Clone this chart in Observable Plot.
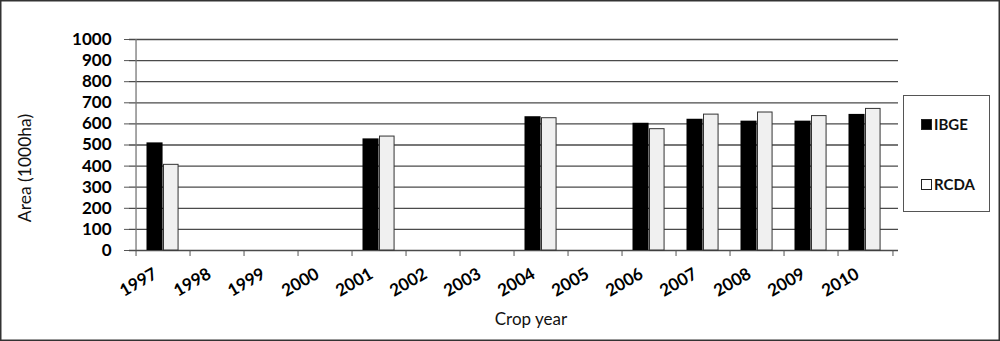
<!DOCTYPE html>
<html>
<head>
<meta charset="utf-8">
<script src="https://cdn.jsdelivr.net/npm/d3@7"></script>
<script src="https://cdn.jsdelivr.net/npm/@observablehq/plot@0.6"></script>
<style>
  html, body { margin: 0; padding: 0; background: #fff; }
  #chart { width: 1000px; height: 341px; position: relative; }
</style>
</head>
<body>
<div id="chart"></div>
<script>
const years = ["1997","1998","1999","2000","2001","2002","2003","2004","2005","2006","2007","2008","2009","2010"];
const ibge  = [510, null, null, null, 529, null, null, 634, null, 603, 622, 613, 613, 645];
const rcda  = [406, null, null, null, 540, null, null, 627, null, 575, 644, 654, 637, 671];
const seriesNames = ["IBGE", "RCDA"];
const yTicks = [0,100,200,300,400,500,600,700,800,900,1000];
const yLabel = "Area (1000ha)";
const xLabel = "Crop year";

const rows = years.map((y, i) => ({year: y, ibge: ibge[i], rcda: rcda[i]}));

const W = 1000, H = 341, mL = 129, mR = 102, mT = 39, mB = 91;
const bw = (W - mL - mR) / years.length;

const plot = Plot.plot({
  width: W, height: H,
  marginLeft: mL, marginRight: mR, marginTop: mT, marginBottom: mB,
  style: {fontFamily: "Lato, 'Open Sans', sans-serif", fontSize: "16px", background: "white"},
  x: {type: "band", domain: years, padding: 0},
  y: {domain: [0, 1000]},
  marks: [
    Plot.ruleY(yTicks, {stroke: "#4a4a4a", strokeWidth: 1.3}),
    Plot.barY(rows.filter(d => d.ibge != null), {x: "year", y: "ibge", fill: "#000", insetLeft: 10.5, insetRight: bw - 27.5}),
    Plot.barY(rows.filter(d => d.rcda != null), {x: "year", y: "rcda", fill: "#f0f0f0", stroke: "#333", strokeWidth: 1, insetLeft: 27.5, insetRight: bw - 43}),
    Plot.ruleX([years[0]], {x: d => d, y1: 0, y2: 1000, dx: -bw / 2, stroke: "#777", strokeWidth: 1.3}),
    Plot.ruleX(years, {x: d => d, y1: 0, y2: 0, insetBottom: -6, dx: -bw / 2, stroke: "#555"}),
    Plot.ruleX([years[years.length - 1]], {x: d => d, y1: 0, y2: 0, insetBottom: -6, dx: bw / 2, stroke: "#555"}),
    Plot.axisY({ticks: yTicks, tickFormat: d => String(d), tickSize: 5, tickPadding: 13, label: null, fontSize: 17, fontWeight: "bold", stroke: "#555", color: "#000"}),
    Plot.axisX({tickSize: 0, tickRotate: -30, tickPadding: 22, dx: -8, label: null, fontSize: 17, fontWeight: "bold", color: "#000"}),
    Plot.text([xLabel], {text: d => d, frameAnchor: "bottom", textAnchor: "middle", lineAnchor: "middle", dx: 17, dy: 69, fontSize: 17, fill: "#111"})
  ]
});

document.getElementById("chart").appendChild(plot);

const svg = d3.select(plot);
// y axis title
svg.append("text")
  .attr("transform", "translate(25,168) rotate(-90)")
  .attr("text-anchor", "middle").attr("dy", "0.35em")
  .attr("font-size", 17.5).attr("fill", "#111").text(yLabel);

const lg = svg.append("g").attr("text-anchor", "start");
lg.append("rect").attr("x", 903.5).attr("y", 95.5).attr("width", 86).attr("height", 116)
  .attr("fill", "white").attr("stroke", "#555").attr("stroke-width", 1);
const legendColors = ["#000", "#fff"];
const legendY = [119.5, 179.5];
seriesNames.forEach((name, i) => {
  lg.append("rect").attr("x", 921.5).attr("y", legendY[i]).attr("width", 10).attr("height", 10)
    .attr("fill", legendColors[i]).attr("stroke", "#222").attr("stroke-width", 1);
  lg.append("text").attr("x", 934).attr("y", legendY[i] + 10.5)
    .attr("font-size", 15).attr("font-weight", "bold").attr("fill", "#111").text(name);
});
svg.append("rect").attr("x", 0.75).attr("y", 0.75).attr("width", W - 1.5).attr("height", H - 1.5)
  .attr("fill", "none").attr("stroke", "#333").attr("stroke-width", 1.5);
</script>
</body>
</html>
